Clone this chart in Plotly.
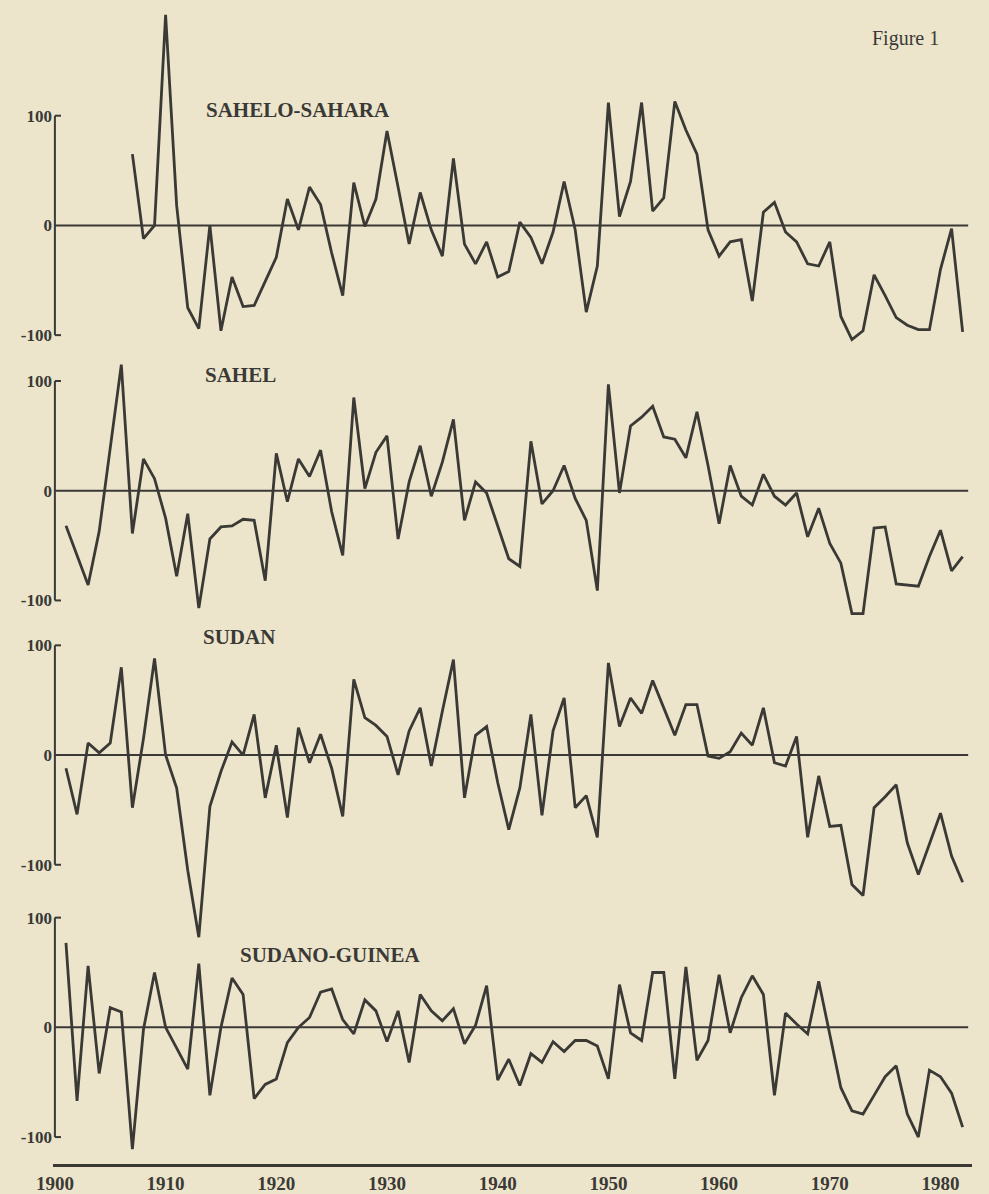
import plotly.graph_objects as go

# ---------------- data (rainfall departure index) ----------------
years_ss = list(range(1907, 1983))
sahelo_sahara = [
    65, -12, 0, 192,
    18, -75, -94, 0, -96, -47, -74, -73, -51, -29,
    24, -4, 35, 19, -25, -64, 39, -1, 24, 86,
    35, -17, 30, -4, -28, 61, -17, -35, -15, -47,
    -42, 3, -11, -35, -6, 40, -4, -79, -37, 112,
    8, 40, 112, 13, 25, 113, 87, 65, -4, -28,
    -15, -13, -69, 12, 21, -6, -15, -35, -37, -15,
    -83, -104, -96, -45, -64, -84, -91, -95, -95, -40,
    -3, -97,
]

years = list(range(1901, 1983))
sahel = [
    -32, -60, -86, -37, 40, 115, -39, 29, 11, -25,
    -78, -21, -107, -44, -33, -32, -26, -27, -82, 34,
    -10, 29, 13, 37, -19, -59, 85, 2, 35, 50,
    -44, 8, 41, -5, 26, 65, -27, 8, -2, -33,
    -62, -69, 45, -12, 0, 23, -7, -27, -91, 97,
    -2, 59, 67, 77, 49, 47, 30, 72, 23, -30,
    23, -5, -13, 15, -5, -13, -2, -42, -16, -48,
    -66, -112, -112, -34, -33, -85, -86, -87, -60, -36,
    -73, -60,
]
sudan = [
    -12, -54, 11, 2, 11, 80, -48, 15, 88, 0,
    -30, -105, -166, -47, -15, 12, 0, 37, -39, 9,
    -57, 25, -7, 19, -12, -56, 69, 34, 27, 17,
    -18, 22, 43, -10, 40, 87, -39, 18, 26, -25,
    -68, -30, 37, -55, 22, 52, -48, -37, -75, 84,
    26, 52, 38, 68, 43, 18, 46, 46, -1, -3,
    3, 20, 9, 43, -7, -10, 17, -75, -19, -65,
    -64, -118, -128, -48, -38, -27, -80, -109, -81, -53,
    -92, -116,
]
sudano_guinea = [
    77, -67, 56, -42, 18, 14, -111, -2, 50, 0,
    -19, -38, 58, -62, 0, 45, 30, -65, -52, -47,
    -14, 0, 9, 32, 35, 7, -6, 25, 15, -13,
    15, -32, 30, 15, 6, 17, -15, 2, 38, -48,
    -29, -53, -24, -32, -13, -22, -12, -12, -17, -47,
    39, -5, -12, 50, 50, -47, 55, -30, -12, 48,
    -5, 27, 47, 30, -62, 13, 3, -6, 42, -6,
    -55, -76, -79, -62, -45, -35, -79, -100, -39, -45,
    -60, -91,
]

region_names = ["SAHELO-SAHARA", "SAHEL", "SUDAN", "SUDANO-GUINEA"]
x_tick_years = [1900, 1910, 1920, 1930, 1940, 1950, 1960, 1970, 1980]
y_tick_vals = [-100, 0, 100]
y_tick_text = ["-100", "0", "100"]

# ---------------- geometry / style ----------------
W, H = 989, 1194
BG = "#ece5cb"
INK = "#3a3935"
L_PX, R_PX, T_PX, B_PX = 53, 972, 0, 1167
YEAR1900_PX = 54.9
PX_PER_YEAR = 11.07
PX_PER_UNIT = 1.1
ZERO_PX = [226, 492, 757, 1030]
ZERO_LINE_END = 1982.5
SERIF = "Liberation Serif, Times New Roman, serif"

x_lo = 1900 - (YEAR1900_PX - L_PX) / PX_PER_YEAR
x_hi = x_lo + (R_PX - L_PX) / PX_PER_YEAR


def paper_x(px):
    return (px - L_PX) / (R_PX - L_PX)


def paper_y(py):
    return (B_PX - py) / (B_PX - T_PX)


fig = go.Figure()
series = [(years_ss, sahelo_sahara), (years, sahel), (years, sudan), (years, sudano_guinea)]
for i, (xs, ys) in enumerate(series):
    yname = "y" if i == 0 else f"y{i + 1}"
    fig.add_trace(go.Scatter(
        x=xs, y=ys, mode="lines", xaxis="x", yaxis=yname,
        line=dict(color=INK, width=2.8), name=region_names[i],
        showlegend=False, hoverinfo="skip",
    ))

layout = dict(
    width=W, height=H,
    paper_bgcolor=BG, plot_bgcolor=BG,
    margin=dict(l=L_PX, r=W - R_PX, t=T_PX, b=H - B_PX, pad=0),
    showlegend=False,
    xaxis=dict(
        range=[x_lo, x_hi], domain=[0, 1], anchor="y",
        showgrid=False, zeroline=False,
        showline=True, linecolor=INK, linewidth=2.5,
        tickmode="array", tickvals=x_tick_years,
        ticktext=[str(v) for v in x_tick_years],
        ticks="", tickfont=dict(family=SERIF, size=19, color=INK, weight="bold"),
        fixedrange=True,
    ),
)

shapes = []
for i, z in enumerate(ZERO_PX):
    key = "yaxis" if i == 0 else f"yaxis{i + 1}"
    ref = "y" if i == 0 else f"y{i + 1}"
    ax = dict(
        range=[(z - B_PX) / PX_PER_UNIT, (z - T_PX) / PX_PER_UNIT],
        domain=[0, 1], anchor="x", side="left",
        showgrid=False, zeroline=False, showline=False,
        tickmode="array", tickvals=y_tick_vals, ticktext=y_tick_text,
        ticks="", tickfont=dict(family=SERIF, size=17, color=INK, weight="bold"),
        fixedrange=True,
    )
    if i > 0:
        ax["overlaying"] = "y"
    layout[key] = ax
    line = dict(color=INK, width=2)
    shapes.append(dict(type="line", xref="x", yref=ref, x0=1900, x1=1900,
                       y0=-100, y1=100, line=line, layer="below"))
    shapes.append(dict(type="line", xref="x", yref=ref, x0=1900, x1=1900.55,
                       y0=100, y1=100, line=line, layer="below"))
    shapes.append(dict(type="line", xref="x", yref=ref, x0=1900, x1=1900.55,
                       y0=-100, y1=-100, line=line, layer="below"))
    shapes.append(dict(type="line", xref="x", yref=ref, x0=1900, x1=ZERO_LINE_END,
                       y0=0, y1=0, line=line, layer="below"))

title_pos = [(298, 110), (240, 376), (239, 639), (330, 957)]
annotations = []
for name, (px, py) in zip(region_names, title_pos):
    annotations.append(dict(
        text=name, xref="paper", yref="paper", x=paper_x(px), y=paper_y(py),
        xanchor="center", yanchor="middle", showarrow=False,
        font=dict(family=SERIF, size=21, color=INK, weight="bold"),
    ))
annotations.append(dict(
    text="Figure 1", xref="paper", yref="paper", x=paper_x(905), y=paper_y(39),
    xanchor="center", yanchor="middle", showarrow=False,
    font=dict(family=SERIF, size=20, color=INK),
))

layout["shapes"] = shapes
layout["annotations"] = annotations
fig.update_layout(**layout)

fig.write_html(
    "out.html",
    config={"displayModeBar": False},
    post_script="document.body.style.margin='0';document.body.style.padding='0';"
                "document.body.style.background='" + BG + "';",
)
